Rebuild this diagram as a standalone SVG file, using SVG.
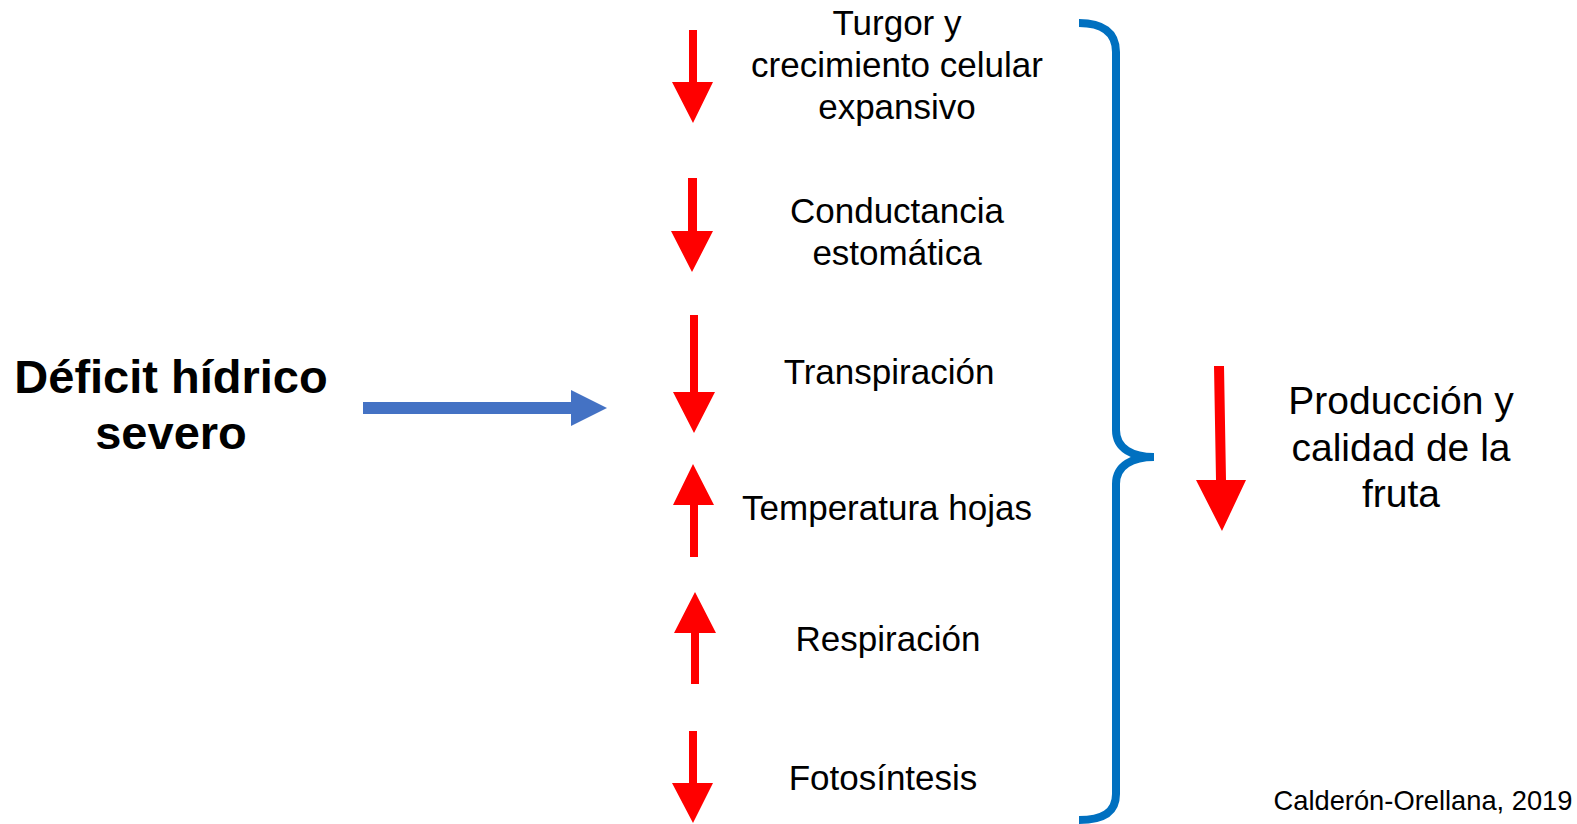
<svg xmlns="http://www.w3.org/2000/svg" width="1577" height="824" viewBox="0 0 1577 824">
<style>
.t{font-family:"Liberation Sans",Arial,sans-serif;fill:#000;text-anchor:middle}
.m{font-size:35px}
.b{font-size:47px;font-weight:bold}
.r{font-size:39px}
.red{fill:#FF0000}
</style>
<rect width="1577" height="824" fill="#fff"/>
<g id="deficit">
<text class="t b" x="171" y="393">Déficit hídrico</text>
<text class="t b" x="171" y="449">severo</text>
</g>
<g id="turgor">
<text class="t m" x="897" y="35">Turgor y</text>
<text class="t m" x="897" y="77">crecimiento celular</text>
<text class="t m" x="897" y="119">expansivo</text>
</g>
<g id="conductancia">
<text class="t m" x="897" y="223">Conductancia</text>
<text class="t m" x="897" y="265">estomática</text>
</g>
<g id="transpiracion"><text class="t m" x="889" y="384">Transpiración</text></g>
<g id="temperatura"><text class="t m" x="887" y="520">Temperatura hojas</text></g>
<g id="respiracion"><text class="t m" x="888" y="651">Respiración</text></g>
<g id="fotosintesis"><text class="t m" x="883" y="790">Fotosíntesis</text></g>
<g id="produccion">
<text class="t r" x="1401" y="414">Producción y</text>
<text class="t r" x="1401" y="461">calidad de la</text>
<text class="t r" x="1401" y="507">fruta</text>
</g>
<g id="credit"><text class="t" style="font-size:27.3px" x="1423" y="810">Calderón-Orellana, 2019</text></g>
<g id="connectors">
<polygon fill="#4472C4" points="363,402 571,402 571,390 607,408 571,426 571,414 363,414"/>
<polygon class="red" points="689,30 697,30 697,82 713,82 693,123 672,82 689,82"/>
<polygon class="red" points="688,178 697,178 697,231 713,231 692,272 671,231 688,231"/>
<polygon class="red" points="690,315 698,315 698,392 715,392 694,433 673,392 690,392"/>
<polygon class="red" points="690,557 698,557 698,505 714,505 693,464 673,505 690,505"/>
<polygon class="red" points="691,684 699,684 699,633 716,633 695,592 674,633 691,633"/>
<polygon class="red" points="689,731 697,731 697,783 713,783 693,823 672,783 689,783"/>
<polygon class="red" points="1214,366 1224,366 1226,480 1246,480 1222,531 1196,480 1216,480"/>
<path d="M1079,23 C1102,23 1116,32 1116,52 L1116,430 C1116,449 1133,457 1154,457 C1133,457 1116,465 1116,484 L1116,794 C1116,813 1102,820 1079,820" fill="none" stroke="#0070C0" stroke-width="8"/>
</g>
</svg>
